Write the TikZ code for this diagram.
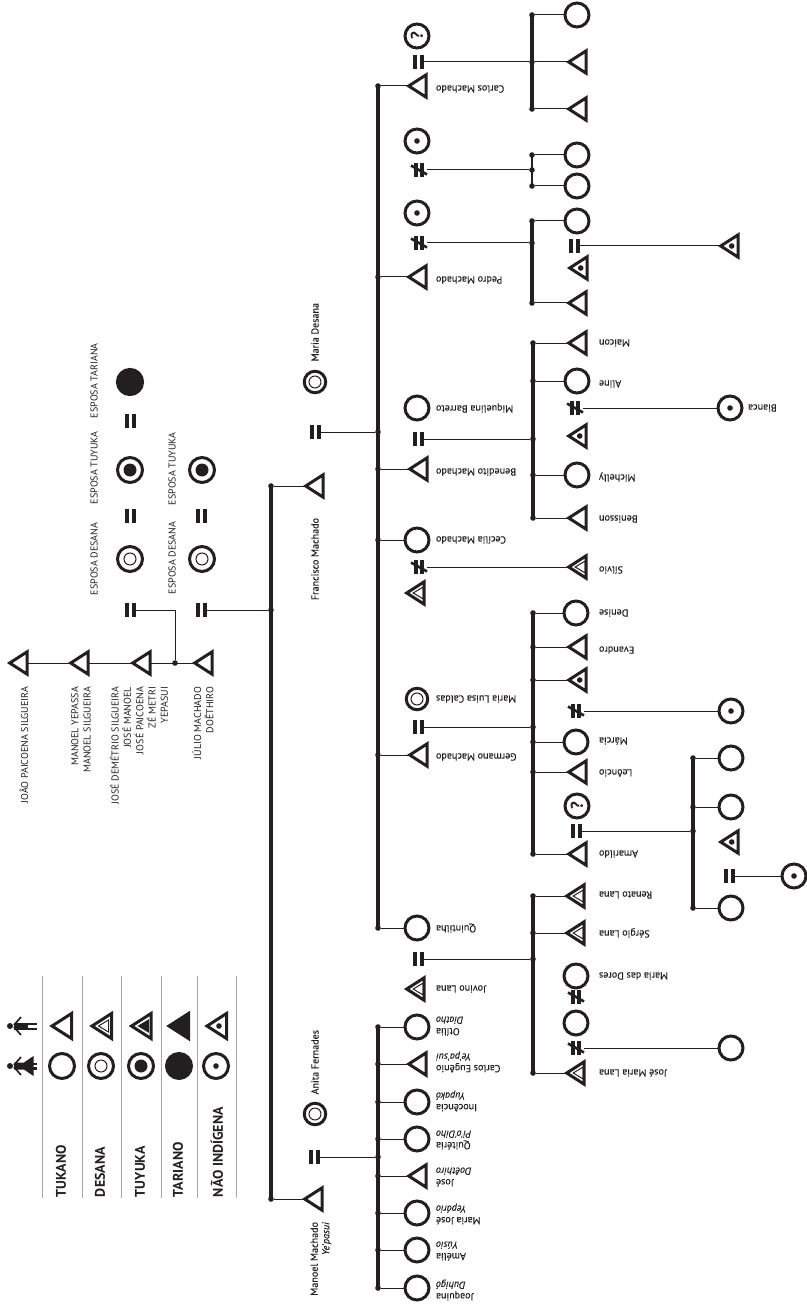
\documentclass[tikz,border=0pt]{standalone}
\usepackage{fontspec}
\setmainfont{PT Sans}
\newfontfamily\namefont[FakeBold=0.25]{PT Sans}
\usetikzlibrary{shapes.geometric}
\definecolor{ink}{HTML}{231F20}
\tikzset{
  stroke/.style={draw=ink,line width=3},
  persontri/.style={isosceles triangle,isosceles triangle stretches,shape border rotate=180,inner sep=0,outer sep=0,anchor=apex,stroke,line join=miter,minimum width=22.5,minimum height=17.5},
  bigtri/.style={persontri,minimum width=25,minimum height=19.5},
  innertri/.style={isosceles triangle,isosceles triangle stretches,shape border rotate=180,inner sep=0,outer sep=0,anchor=apex,draw=ink,line width=1,line join=miter,minimum width=12,minimum height=10},
  solidtri/.style={innertri,fill=ink},
  person/.style={circle,inner sep=0,outer sep=0,stroke,minimum size=24},
  wife/.style={person,minimum size=25},
  spouse/.style={person,minimum size=21.5},
  innerring/.style={circle,inner sep=0,outer sep=0,draw=ink,line width=1,minimum size=12},
  innerdisc/.style={circle,inner sep=0,outer sep=0,fill=ink,minimum size=13},
  cdot/.style={circle,inner sep=0,outer sep=0,fill=ink,minimum size=5.6},
  jdot/.style={circle,inner sep=0,outer sep=0,fill=ink,minimum size=5.6},
  markbox/.style={rectangle,inner sep=0,outer sep=0,minimum width=11,minimum height=14},
  nebox/.style={rectangle,inner sep=0,outer sep=0,minimum width=16,minimum height=14},
  bar/.style={draw=ink,line width=3.2},
  link/.style={draw=ink,line width=1},
  txt/.style={inner sep=0,outer sep=0,text=ink,font=\namefont\fontsize{10.1}{11.6}\selectfont},
  rlab/.style={txt,rotate=180,anchor=east,align=right},
  vlab/.style={txt,rotate=90,anchor=east,align=right},
  caps/.style={txt,rotate=90,anchor=west,font=\fontsize{10}{12.3}\selectfont},
  capsr/.style={txt,rotate=90,anchor=east,align=right,font=\fontsize{10}{12.3}\selectfont},
  legend/.style={txt,rotate=90,anchor=west,font=\fontsize{14}{16}\selectfont\bfseries},
  rule/.style={draw=black!35,line width=1},
}
% triangles: x = outer tip of the apex
\newcommand{\tri}[3]{\node[persontri] (#1) at (#2+2.7,#3) {};}
\newcommand{\triD}[3]{\tri{#1}{#2}{#3}\node[innertri] (#1i) at ([xshift=6.5]#1.apex) {};}
\newcommand{\triT}[3]{\tri{#1}{#2}{#3}\node[solidtri] (#1i) at ([xshift=6.5]#1.apex) {};}
\newcommand{\triN}[3]{\tri{#1}{#2}{#3}\node[cdot] (#1i) at ([xshift=11]#1.apex) {};}
\newcommand{\circN}[4][person]{\node[#1] (#2) at (#3,#4) {};\node[cdot] (#2i) at (#2.center) {};}
\newcommand{\circD}[4][person]{\node[#1] (#2) at (#3,#4) {};\node[innerring] (#2i) at (#2.center) {};}
\newcommand{\circT}[4][person]{\node[#1] (#2) at (#3,#4) {};\node[innerdisc] (#2i) at (#2.center) {};}
\newcommand{\circQ}[3]{\node[person] (#1) at (#2,#3) {};\node[txt,rotate=90,font=\fontsize{17}{17}\selectfont\bfseries] (#1i) at (#2,#3) {?};}
\newcommand{\eqm}[3]{\node[markbox] (#1) at (#2,#3) {};\fill[ink] (#2-5.5,#3-7) rectangle (#2-1.5,#3+7);\fill[ink] (#2+1.5,#3-7) rectangle (#2+5.5,#3+7);}
\newcommand{\nem}[3]{\node[nebox] (#1) at (#2,#3) {};\fill[ink] (#2-5,#3-7) rectangle (#2-1.2,#3+7);\fill[ink] (#2+1.2,#3-7) rectangle (#2+5,#3+7);\draw[ink,line width=2.6] (#2-8,#3-4.5) -- (#2+8,#3+4.5);}
\newcommand{\jd}[3]{\node[jdot] (#1) at (#2,#3) {};}
\begin{document}
\begin{tikzpicture}[x=1pt,y=-1pt]
\useasboundingbox (0,0) rectangle (806,1305);
% ---------- legend
\foreach \n/\xx in {a/42,b/82,c/121,d/161,e/197,f/236}{
  \coordinate (r\n t) at (\xx,976); \coordinate (r\n b) at (\xx,1198);
  \draw[rule] (r\n t) -- (r\n b);}
\node[bigtri] (lt1) at (49+3,1026) {};
\node[bigtri] (lt2) at (89+3,1026) {};
\node[innertri] (lt2i) at (98.5,1026) {};
\node[bigtri] (lt3) at (128.5+3,1026) {};
\node[solidtri] (lt3i) at (138.5,1026) {};
\node[bigtri,fill=ink] (lt4) at (166+3,1026) {};
\node[bigtri] (lt5) at (204+3,1026) {};
\node[cdot] (lt5i) at (219,1026) {};
\node[wife,stroke] (lc1) at (62,1066) {};
\circD[wife]{lc2}{101}{1066}
\circT[wife]{lc3}{141}{1066}
\node[wife,fill=ink] (lc4) at (179,1066) {};
\circN[wife]{lc5}{216}{1066}
\node[legend] (l1) at (61,1197) {TUKANO};
\node[legend] (l2) at (100,1197) {DESANA};
\node[legend] (l3) at (140,1197) {TUYUKA};
\node[legend] (l4) at (178,1197) {TARIANO};
\node[legend] (l5) at (217,1197) {NÃO INDÍGENA};
% person icons
\fill[ink] (10,1026) circle (3);
\fill[ink] (14,1023) rectangle (28,1029.5);
\fill[ink] (28,1022.5) rectangle (37,1024.8);
\fill[ink] (28,1027.6) rectangle (37,1030);
\draw[ink,line width=1.7] (14,1025) -- (21,1017);
\draw[ink,line width=1.7] (14,1027) -- (21,1035);
\fill[ink] (10,1066) circle (3);
\fill[ink] (14,1062.5) -- (24,1062.5) -- (33.5,1056) -- (33.5,1076) -- (24,1069.5) -- (14,1069.5) -- cycle;
\fill[ink] (33,1062.5) rectangle (37,1064.8);
\fill[ink] (33,1067.4) rectangle (37,1069.7);
\draw[ink,line width=1.7] (14,1065) -- (21,1057);
\draw[ink,line width=1.7] (14,1067) -- (21,1075);
% ---------- ancestors
\tri{a1}{7}{663}
\tri{a2}{68}{663}
\tri{a3}{130}{663}
\tri{a4}{192}{663}
\jd{ja}{175}{663}
\coordinate (ka) at (175,610);
\draw[link] (a1.east) -- (a2.apex);
\draw[link] (a2.east) -- (a3.apex);
\draw[link] (a3.east) -- (a4.apex);
\node[capsr] (na1) at (24,687) {JOÃO PAICOENA SILGUEIRA};
\node[capsr] (na2) at (81,687) {MANOEL YEPASSA\\MANOEL SILGUEIRA};
\node[capsr] (na3) at (139,687) {JOSÉ DEMÉTRIO SILGUEIRA\\JOSÉ MANOEL\\JOSÉ PAICOENA\\ZÉ METRI\\YEPASUI};
\node[capsr] (na4) at (203,687) {JÚLIO MACHADO\\DOÊTHIRO};
% wives
\node[wife,minimum size=25.2,fill=ink] (w1) at (130,382) {};
\circT[wife]{w2}{130}{470}
\circD[wife]{w3}{130}{559}
\circT[wife]{w4}{202}{470}
\circD[wife]{w5}{202}{559}
\eqm{e1}{130.5}{421}
\eqm{e2}{130.5}{516}
\eqm{e3}{130.5}{610}
\eqm{e4}{201.5}{516}
\eqm{e5}{201.5}{610}
\draw[link] (e3.east) -- (ka) -- (ja);
\node[caps] (nw1) at (94,418) {ESPOSA TARIANA};
\node[caps] (nw2) at (94,504) {ESPOSA TUYUKA};
\node[caps] (nw3) at (94,595) {ESPOSA DESANA};
\node[caps] (nw4) at (172,505) {ESPOSA TUYUKA};
\node[caps] (nw5) at (172,594) {ESPOSA DESANA};
% ---------- trunk
\jd{t1}{271}{486}\jd{t2}{271}{610}\jd{t3}{271}{1199}
\draw[bar] (t1.center) -- (t3.center);
\draw[link] (e5.east) -- (t2);
\tri{fm}{303}{486}
\tri{mm}{302}{1199}
\draw[link] (t1) -- (fm.apex);
\draw[link] (t3) -- (mm.apex);
\node[vlab] (nfm) at (315,518) {Francisco Machado};
\node[vlab] (nmm) at (321,1222) {Manoel Machado\\\textit{Ye'pasui}};
% ---------- Francisco
\circD[spouse]{md}{315}{382}
\node[vlab] (nmd) at (315,303) {Maria Desana};
\eqm{efm}{315}{432}
\jd{f0}{378}{86}\jd{f1}{378}{277}\jd{fe}{378}{432}\jd{f2}{378}{469}\jd{f3}{378}{540}\jd{f4}{378}{755}\jd{f5}{378}{928}
\draw[bar] (f0.center) -- (f5.center);
\draw[link] (efm.east) -- (fe);
\tri{cm}{406}{86}
\tri{pm}{406}{277}
\tri{bm}{407}{469}
\node[person] (cc) at (417,540) {};
\tri{gm}{407}{755}
\node[person] (qt) at (417,928) {};
\draw[link] (f0) -- (cm.apex);
\draw[link] (f1) -- (pm.apex);
\draw[link] (f2) -- (bm.apex);
\draw[link] (f3) -- (cc);
\draw[link] (f4) -- (gm.apex);
\draw[link] (f5) -- (qt);
\node[rlab] (ncm) at (436,89) {Carlos Machado};
\node[rlab] (npm) at (436,280) {Pedro Machado};
\node[rlab] (nbm) at (436,472) {Benedito Machado};
\node[rlab] (ncc) at (436,540) {Cecília Machado};
\node[rlab] (ngm) at (436,757) {Germano Machado};
\node[rlab] (nqt) at (436,928) {Quintilha};
% Carlos's family
\circQ{cw}{417}{36}
\eqm{ecm}{418.5}{62}
\jd{c0}{532}{15}\jd{c1}{532}{62}\jd{c2}{532}{109}
\draw[bar] (c0.center) -- (c2.center);
\node[person] (c3) at (577,15) {};
\tri{c4}{566}{62}
\tri{c5}{566}{109}
\draw[link] (ecm.east) -- (c1);
\draw[link] (c0) -- (c3);
\draw[link] (c1) -- (c4.apex);
\draw[link] (c2) -- (c5.apex);
% Pedro's first union
\circN{pw1}{417}{141}
\nem{np1}{419}{170}
\jd{p0}{532}{155}\jd{p1}{532}{170}\jd{p2}{532}{186}
\draw[bar,line width=2.2] (p0.center) -- (p2.center);
\node[person] (p3) at (577,155) {};
\node[person] (p4) at (577,186) {};
\draw[link] (np1.east) -- (p1);
\draw[link] (p0) -- (p3);
\draw[link] (p2) -- (p4);
% Pedro's second union
\circN{pw2}{417}{213}
\nem{np2}{419}{243}
\jd{q0}{532}{221}\jd{q1}{532}{243}\jd{q2}{532}{303}
\draw[bar] (q0.center) -- (q2.center);
\node[person] (q3) at (577,221) {};
\triN{q4}{567}{268}
\tri{q5}{566}{303}
\eqm{eq4}{574.5}{246}
\triN{q6}{718}{246}
\draw[link] (np2.east) -- (q1);
\draw[link] (q0) -- (q3);
\draw[link] (q2) -- (q5.apex);
\draw[link] (eq4.east) -- (q6.apex);
% Benedito
\node[person] (mb) at (417,408) {};
\node[rlab] (nmb) at (436,408) {Miquelina Barreto};
\eqm{ebm}{418.5}{439}
\jd{b0}{533}{343}\jd{b1}{533}{381}\jd{be}{533}{439}\jd{b2}{533}{475}\jd{b3}{533}{518}
\draw[bar] (b0.center) -- (b3.center);
\draw[link] (ebm.east) -- (be);
\tri{b4}{566}{343}
\node[person] (b5) at (577,381) {};
\nem{nb5}{575}{408}
\circN{bia}{730}{408}
\triN{b6}{566}{436}
\node[person] (b7) at (577,475) {};
\tri{b8}{566}{518}
\draw[link] (b0) -- (b4.apex);
\draw[link] (b1) -- (b5);
\draw[link] (b2) -- (b7);
\draw[link] (b3) -- (b8.apex);
\draw[link] (nb5.east) -- (bia);
\node[rlab] (nb4) at (599,343) {Maicon};
\node[rlab] (nb5l) at (599,384) {Aline};
\node[rlab] (nbia) at (748,408) {Bianca};
\node[rlab] (nb7) at (599,477) {Michelly};
\node[rlab] (nb8) at (599,519) {Benisson};
% Cecília
\nem{ncc1}{419}{567}
\triD{sv}{566}{567}
\triD{cs}{404}{593}
\draw[link] (ncc1.east) -- (sv.apex);
\node[rlab] (nsv) at (599,570) {Sílvio};
% Germano
\circD[spouse]{ml}{417}{699}
\node[rlab] (nml) at (436,699) {Maria Luisa Caldas};
\eqm{egm}{418.5}{727}
\jd{g0}{533}{613}\jd{g1}{533}{647}\jd{g2}{533}{680}\jd{ge}{533}{727}\jd{g3}{533}{742}\jd{g4}{533}{772}\jd{g5}{533}{854}
\draw[bar] (g0.center) -- (g5.center);
\draw[link] (egm.east) -- (ge);
\node[person] (dn) at (576,613) {};
\tri{ev}{566}{647}
\triN{g6}{566}{680}
\nem{ng6}{576}{711}
\circN{g7}{731}{711}
\node[person] (mc) at (576,742) {};
\tri{le}{566}{772}
\tri{am}{566}{854}
\draw[link] (g0) -- (dn);
\draw[link] (g1) -- (ev.apex);
\draw[link] (g2) -- (g6.apex);
\draw[link] (ng6.east) -- (g7);
\draw[link] (g3) -- (mc);
\draw[link] (g4) -- (le.apex);
\draw[link] (g5) -- (am.apex);
\node[rlab] (ndn) at (599,613) {Denise};
\node[rlab] (nev) at (599,650) {Evandro};
\node[rlab] (nmc) at (599,741) {Márcia};
\node[rlab] (nle) at (599,773) {Leôncio};
\node[rlab] (nam) at (599,854) {Amarildo};
% Amarildo
\circQ{aw}{577}{806}
\eqm{eam}{576.5}{831}
\jd{h0}{693}{758}\jd{h1}{693}{807}\jd{he}{693}{831}\jd{h2}{693}{908}
\draw[bar] (h0.center) -- (h2.center);
\draw[link] (eam.east) -- (he);
\node[person] (h3) at (731,758) {};
\node[person] (h4) at (731,807) {};
\node[person] (h5) at (731,908) {};
\triN{h6}{718}{842}
\eqm{eh6}{729.5}{876}
\circN{h7}{794}{876}
\draw[link] (h0) -- (h3);
\draw[link] (h1) -- (h4);
\draw[link] (h2) -- (h5);
\draw[link] (eh6.east) -- (h7);
% Quintilha / Jovino
\triD{jv}{404}{989}
\node[rlab] (njv) at (436,989) {Jovino Lana};
\eqm{eqt}{418.5}{959}
\jd{l0}{533}{896}\jd{l1}{533}{933}\jd{le}{533}{959}\jd{l2}{533}{1073}
\draw[bar] (l0.center) -- (l2.center);
\draw[link] (eqt.east) -- (le);
\triD{l3}{564}{896}
\triD{l4}{564}{933}
\node[person] (l5c) at (576,976) {};
\nem{nl5}{576}{997}
\node[person] (l6) at (576,1023) {};
\nem{nl6}{576}{1048}
\node[person] (l7) at (731,1048) {};
\triD{l8}{564}{1073}
\draw[link] (l0) -- (l3.apex);
\draw[link] (l1) -- (l4.apex);
\draw[link] (l2) -- (l8.apex);
\draw[link] (nl6.east) -- (l7);
\node[rlab] (nl3) at (599,895) {Renato Lana};
\node[rlab] (nl4) at (599,933) {Sérgio Lana};
\node[rlab] (nl5) at (599,976) {Maria das Dores};
\node[rlab] (nl8) at (599,1073) {José Maria Lana};
% ---------- Manoel
\circD[spouse]{af}{315}{1114}
\node[vlab] (naf) at (315,1030) {Anita Fernades};
\eqm{emm}{314.5}{1157}
\jd{m0}{378}{1027}\jd{m1}{378}{1064}\jd{m2}{378}{1102}\jd{m3}{378}{1139}\jd{me}{378}{1157}\jd{m4}{378}{1176}\jd{m5}{378}{1213}\jd{m6}{378}{1250}\jd{m7}{378}{1288}
\draw[bar] (m0.center) -- (m7.center);
\draw[link] (emm.east) -- (me);
\node[person] (c1m) at (417,1027) {};
\tri{c2m}{406}{1064}
\node[person] (c3m) at (417,1102) {};
\node[person] (c4m) at (417,1139) {};
\tri{c5m}{406}{1176}
\node[person] (c6m) at (417,1213) {};
\node[person] (c7m) at (417,1250) {};
\node[person] (c8m) at (417,1288) {};
\draw[link] (m0) -- (c1m);
\draw[link] (m1) -- (c2m.apex);
\draw[link] (m2) -- (c3m);
\draw[link] (m3) -- (c4m);
\draw[link] (m4) -- (c5m.apex);
\draw[link] (m5) -- (c6m);
\draw[link] (m6) -- (c7m);
\draw[link] (m7) -- (c8m);
\node[rlab] (nc1) at (436,1026) {Otília\\\textit{Diatho}};
\node[rlab] (nc2) at (436,1062) {Carlos Eugênio\\\textit{Ye'pa'sui}};
\node[rlab] (nc3) at (436,1101) {Inocência\\\textit{Yupakó}};
\node[rlab] (nc4) at (436,1140) {Quitéria\\\textit{Pi'o'Diho}};
\node[rlab] (nc5) at (436,1177) {José\\\textit{Doêthiro}};
\node[rlab] (nc6) at (436,1214) {Maria José\\\textit{Yepário}};
\node[rlab] (nc7) at (436,1251) {Amélia\\\textit{Yúsio}};
\node[rlab] (nc8) at (436,1290) {Joaquina\\\textit{Duhigó}};
\end{tikzpicture}
\end{document}
